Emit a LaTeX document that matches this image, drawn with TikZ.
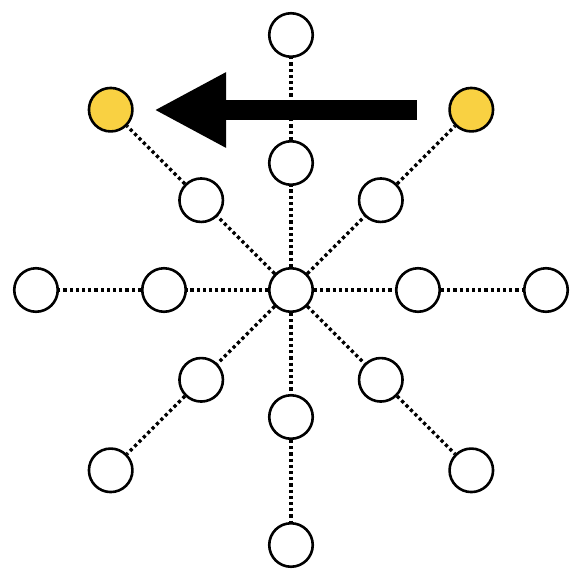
\documentclass[tikz,border=0pt]{standalone}
\usepackage{tikz}
\usetikzlibrary{arrows.meta, positioning, calc, backgrounds}
\definecolor{starYellow}{HTML}{F9D142}
\definecolor{lineDark}{HTML}{000000}

\tikzset{
  vertex/.style={circle, draw=lineDark, line width=2.6pt, fill=white,
    minimum size=43.5pt, inner sep=0pt},
  marked/.style={vertex, fill=starYellow},
  spoke/.style={line width=3.4pt, lineDark, dash pattern=on 3.2pt off 3pt},
}

\begin{document}
\begin{tikzpicture}[x=1pt, y=-1pt]
    \useasboundingbox (0,0) rectangle (584,584);

    % hub and two rings
    \node[vertex] (hub) at (291,290) {};
    \foreach \d/\ang in {e/0, ne/45, n/90, nw/135, w/180, sw/225, s/270, se/315} {
      \node[vertex] (in\d) at ($(hub)+(-\ang:127)$) {};
    }
    \foreach \d/\ang in {e/0, n/90, w/180, sw/225, s/270, se/315} {
      \node[vertex] (out\d) at ($(hub)+(-\ang:255)$) {};
    }
    \node[marked] (outne) at ($(hub)+(-45:255)$) {};
    \node[marked] (outnw) at ($(hub)+(-135:255)$) {};

    % dotted spokes
    \begin{scope}[on background layer]
    \foreach \d in {e, ne, n, nw, w, sw, s, se} {
      \draw[spoke] (hub) -- (in\d);
      \draw[spoke] (in\d) -- (out\d);
    }
    \end{scope}

    % big arrow
    \coordinate (arrowFrom) at (417,110);
    \coordinate (arrowTo) at (154,110);
    \draw[line width=20pt, lineDark,
      -{Triangle[length=72pt 0 0, width=70pt 0 0]}] (arrowFrom) -- (arrowTo);
  \end{tikzpicture}
\end{document}
